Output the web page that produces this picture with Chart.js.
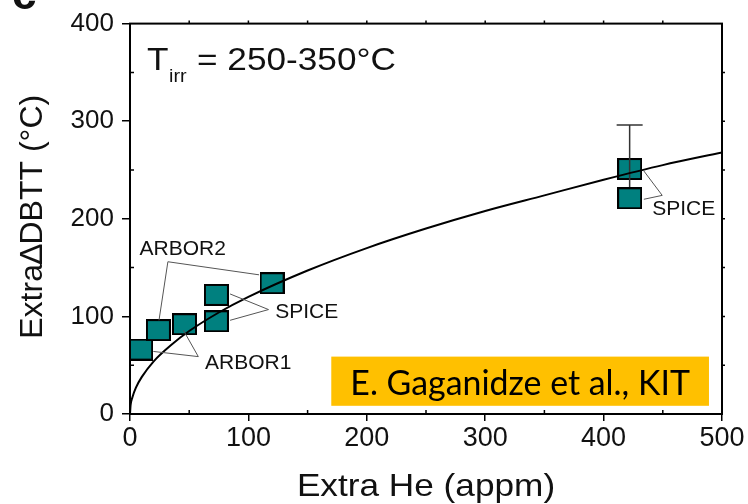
<!DOCTYPE html>
<html>
<head>
<meta charset="utf-8">
<script src="https://cdn.jsdelivr.net/npm/chart.js@4.4.1/dist/chart.umd.min.js"></script>
<style>
  html, body { margin: 0; padding: 0; background: #fff; }
  #chart { display: block; }
</style>
</head>
<body>
<canvas id="chart" width="748" height="504"></canvas>
<script>
(function() {
    'use strict';

    // measured specimens (extra He in appm, extra DBTT shift in °C)
    const heAppm    = [9, 24, 46, 73, 73, 120, 422, 422];
    const dbttShift = [66, 86, 92, 122, 95, 134, 251, 221];
    const frontIndex = 7;          // lower SPICE point sits on top of the error bar

    // error bar of the upper SPICE point
    const errorHe   = [422];
    const errorLow  = [210];
    const errorHigh = [296];

    // fitted trend curve
    const fitHe   = [0, 0.5, 2, 5, 10, 20, 35, 50, 75, 100, 150, 200, 250, 300, 350, 400, 450, 500];
    const fitDbtt = [0, 9, 17, 27, 38, 54, 71, 85, 104, 120, 147, 170, 190, 208, 224, 240, 255, 268];

    // axes
    const xTickValues = [0, 100, 200, 300, 400, 500];
    const yTickValues = [0, 100, 200, 300, 400];
    const xMinorTicks = [50, 150, 250, 350, 450];
    const yMinorTicks = [50, 150, 250, 350];

    const TEAL = '#00807f';
    const ARIAL = "'Liberation Sans', Arial, sans-serif";

    // callouts: label text, label anchor and leader lines, all in data units
    const callouts = [
        { text: 'ARBOR2', at: [8, 163], vertex: [32, 156], ends: [[24.5, 96], [109, 142.6]] },
        { text: 'SPICE',  at: [122.6, 98], vertex: [117, 107], ends: [[84.5, 123], [84.5, 96]] },
        { text: 'ARBOR1', at: [63.4, 46.3], vertex: [57.7, 58.8], ends: [[19.7, 64.1], [45.1, 85.8]] },
        { text: 'SPICE',  at: [441, 204], vertex: [449.5, 224], ends: [[434, 249], [434, 220]] }
    ];
    const creditBox = { x0: 170, x1: 489, y0: 8.4, y1: 58.8, text: 'E. Gaganidze et al., KIT' };

    function makeMarker() {
        const c = document.createElement('canvas');
        c.width = 25;
        c.height = 22;
        const g = c.getContext('2d');
        g.fillStyle = TEAL;
        g.fillRect(0, 0, 25, 22);
        g.strokeStyle = '#000';
        g.lineWidth = 2;
        g.strokeRect(1, 1, 23, 20);
        return c;
    }
    const marker = makeMarker();

    // draw text squeezed/stretched horizontally like the original figure
    function wideText(ctx, text, x, y, sx) {
        ctx.save();
        ctx.translate(x, y);
        ctx.scale(sx, 1);
        ctx.fillText(text, 0, 0);
        ctx.restore();
    }

    const points = heAppm.map(function(x, i) { return { x: x, y: dbttShift[i] }; });
    const backPoints = points.filter(function(p, i) { return i !== frontIndex; });
    const frontPoints = points.filter(function(p, i) { return i === frontIndex; });
    const errorLine = [
        { x: errorHe[0], y: errorLow[0] },
        { x: errorHe[0], y: errorHigh[0] }
    ];

    const decorPlugin = {
        id: 'decor',
        afterDatasetsDraw: function(chart) {
            const ctx = chart.ctx;
            const xs = chart.scales.x, ys = chart.scales.y;
            const px = function(v) { return xs.getPixelForValue(v); };
            const py = function(v) { return ys.getPixelForValue(v); };

            // leader lines and callout labels
            ctx.save();
            ctx.strokeStyle = '#555';
            ctx.lineWidth = 1;
            callouts.forEach(function(c) {
                c.ends.forEach(function(e) {
                    ctx.beginPath();
                    ctx.moveTo(px(c.vertex[0]), py(c.vertex[1]));
                    ctx.lineTo(px(e[0]), py(e[1]));
                    ctx.stroke();
                });
            });
            ctx.fillStyle = '#111';
            ctx.font = '21px ' + ARIAL;
            ctx.textAlign = 'left';
            ctx.textBaseline = 'alphabetic';
            callouts.forEach(function(c) {
                ctx.fillText(c.text, px(c.at[0]), py(c.at[1]));
            });

            // orange credit box
            const bx0 = px(creditBox.x0), bx1 = px(creditBox.x1);
            const by0 = py(creditBox.y1), by1 = py(creditBox.y0);
            ctx.fillStyle = '#ffc000';
            ctx.fillRect(bx0, by0, bx1 - bx0, by1 - by0);
            ctx.fillStyle = '#000';
            let size = 32;
            ctx.font = size + "px Lato, 'Open Sans', sans-serif";
            const w = ctx.measureText(creditBox.text).width;
            size = size * 340 / w;
            ctx.font = size.toFixed(1) + "px Lato, 'Open Sans', sans-serif";
            ctx.textAlign = 'center';
            ctx.textBaseline = 'middle';
            ctx.fillText(creditBox.text, (bx0 + bx1) / 2, (by0 + by1) / 2 + 3);
            ctx.restore();
        },
        afterDraw: function(chart) {
            const ctx = chart.ctx;
            const a = chart.chartArea;
            const xs = chart.scales.x, ys = chart.scales.y;
            ctx.save();
            ctx.strokeStyle = '#000';
            ctx.lineWidth = 2;
            ctx.strokeRect(a.left, a.top, a.right - a.left, a.bottom - a.top);

            ctx.lineWidth = 1.5;
            ctx.beginPath();
            xMinorTicks.forEach(function(v) {
                const x = xs.getPixelForValue(v);
                ctx.moveTo(x, a.bottom); ctx.lineTo(x, a.bottom - 4);
            });
            yMinorTicks.forEach(function(v) {
                const y = ys.getPixelForValue(v);
                ctx.moveTo(a.left, y); ctx.lineTo(a.left + 4, y);
            });
            xMinorTicks.concat(xTickValues.slice(1, -1)).forEach(function(v) {
                const x = xs.getPixelForValue(v);
                ctx.moveTo(x, a.top); ctx.lineTo(x, a.top - 3);
            });
            yMinorTicks.concat(yTickValues.slice(1, -1)).forEach(function(v) {
                const y = ys.getPixelForValue(v);
                ctx.moveTo(a.right, y); ctx.lineTo(a.right + 3, y);
            });
            ctx.stroke();

            // axis titles
            ctx.fillStyle = '#111';
            ctx.font = '32px ' + ARIAL;
            ctx.textAlign = 'center';
            ctx.textBaseline = 'alphabetic';
            wideText(ctx, 'Extra He (appm)', (a.left + a.right) / 2, 496, 1.1);
            ctx.save();
            ctx.translate(42, (a.top + a.bottom) / 2 - 2);
            ctx.rotate(-Math.PI / 2);
            ctx.fillText('Extra\u2206DBTT (\u00b0C)', 0, 0);
            ctx.restore();

            // temperature note
            ctx.textAlign = 'left';
            ctx.font = '32px ' + ARIAL;
            wideText(ctx, 'T', a.left + 17, a.top + 46, 1.1);
            ctx.font = '18px ' + ARIAL;
            wideText(ctx, 'irr', a.left + 39, a.top + 58, 1.1);
            ctx.font = '32px ' + ARIAL;
            wideText(ctx, '= 250-350\u00b0C', a.left + 67, a.top + 46, 1.1);

            // cut-off panel letter at the top edge
            ctx.font = 'bold 44px ' + ARIAL;
            ctx.fillText('c', 12, 9);
            ctx.restore();
        }
    };

    new Chart(document.getElementById('chart').getContext('2d'), {
        type: 'scatter',
        data: {
            datasets: [
                {
                    type: 'line',
                    label: 'fit',
                    data: fitHe.map(function(x, i) { return { x: x, y: fitDbtt[i] }; }),
                    borderColor: '#000',
                    borderWidth: 2,
                    pointRadius: 0,
                    cubicInterpolationMode: 'monotone',
                    order: 1
                },
                {
                    label: 'front',
                    data: frontPoints,
                    pointStyle: marker,
                    pointRadius: 12,
                    order: 2
                },
                {
                    type: 'line',
                    label: 'error',
                    data: errorLine,
                    borderColor: '#333',
                    borderWidth: 1.5,
                    pointStyle: ['circle', 'line'],
                    pointRadius: [0, 13],
                    pointBorderColor: '#333',
                    pointBorderWidth: 1.5,
                    order: 3
                },
                {
                    label: 'back',
                    data: backPoints,
                    pointStyle: marker,
                    pointRadius: 12,
                    order: 4
                }
            ]
        },
        options: {
            responsive: false,
            animation: false,
            devicePixelRatio: 1,
            layout: { padding: { top: 19, right: 26, left: 0, bottom: 0 } },
            plugins: {
                legend: { display: false },
                tooltip: { enabled: false }
            },
            scales: {
                x: {
                    type: 'linear',
                    min: 0,
                    max: 500,
                    afterBuildTicks: function(scale) {
                        scale.ticks = xTickValues.map(function(v) { return { value: v }; });
                    },
                    afterFit: function(scale) { scale.height = 90; },
                    grid: { drawOnChartArea: false, color: '#000', lineWidth: 1.5, tickLength: 7 },
                    border: { color: '#000', width: 2 },
                    ticks: { font: { family: ARIAL, size: 27 }, color: '#111', padding: 1, maxRotation: 0, autoSkip: false }
                },
                y: {
                    type: 'linear',
                    min: 0,
                    max: 400,
                    afterBuildTicks: function(scale) {
                        scale.ticks = yTickValues.map(function(v) { return { value: v }; });
                    },
                    afterFit: function(scale) { scale.width = 130; },
                    grid: { drawOnChartArea: false, color: '#000', lineWidth: 1.5, tickLength: 8 },
                    border: { color: '#000', width: 2 },
                    ticks: { font: { family: ARIAL, size: 26 }, color: '#111', padding: 8 }
                }
            }
        },
        plugins: [decorPlugin]
    });
})();
</script>
</body>
</html>
